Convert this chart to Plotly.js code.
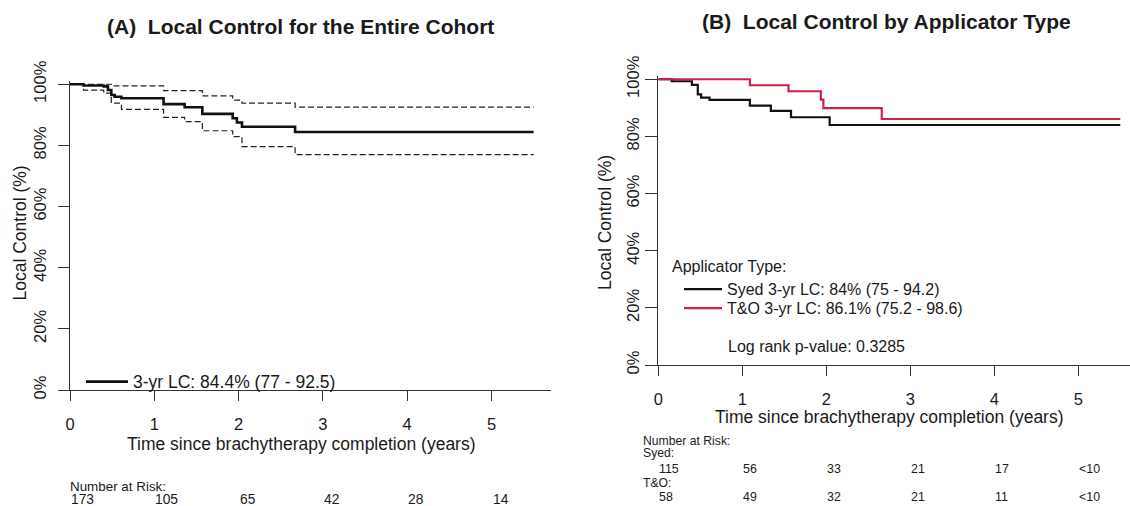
<!DOCTYPE html>
<html><head><meta charset="utf-8">
<script src="https://cdn.plot.ly/plotly-3.0.1.min.js"></script>
<style>html,body{margin:0;padding:0;background:#fff}#chart{width:1130px;height:506px}</style>
</head><body><div id="chart"></div>
<script>
// ---------- Panel A: entire cohort ----------
const cohortTime = [0, 0.16, 0.40, 0.45, 0.49, 0.53, 0.61, 1.11, 1.36, 1.57, 1.93, 1.98, 2.04, 2.67, 5.5];
const cohortLC   = [100, 99.6, 99.3, 98.1, 96.5, 95.9, 95.4, 93.5, 92.5, 90.3, 88.9, 87.5, 86.1, 84.4, 84.4];
const upperTime  = [0, 0.49, 1.11, 1.57, 1.93, 2.04, 2.67, 5.5];
const upperLC    = [100, 99.5, 97.9, 96.2, 94.8, 93.8, 92.5, 92.5];
const lowerTime  = [0, 0.16, 0.40, 0.49, 0.61, 1.11, 1.36, 1.57, 1.93, 2.04, 2.67, 5.5];
const lowerLC    = [100, 98.1, 97.1, 93.8, 91.8, 89.2, 87.8, 84.8, 82.9, 79.6, 77.0, 77.0];

// ---------- Panel B: by applicator type ----------
const syedTime = [0, 0.16, 0.40, 0.47, 0.51, 0.61, 1.09, 1.34, 1.58, 2.04, 5.5];
const syedLC   = [100, 99.3, 98.0, 94.7, 93.6, 92.8, 90.8, 88.9, 86.7, 84.0, 84.0];
const toTime   = [0, 1.09, 1.55, 1.935, 1.965, 2.66, 5.5];
const toLC     = [100, 97.9, 95.8, 92.9, 89.9, 86.1, 86.1];

// ---------- Ticks & labels ----------
const xTicks = [0, 1, 2, 3, 4, 5];
const yTicks = [0, 20, 40, 60, 80, 100];
const yTickText = ['0%', '20%', '40%', '60%', '80%', '100%'];

// ---------- Number at risk ----------
const riskYears = [0, 1, 2, 3, 4, 5];
const riskAll  = ['173', '105', '65', '42', '28', '14'];
const riskSyed = ['115', '56', '33', '21', '17', '&lt;10'];
const riskTO   = ['58', '49', '32', '21', '11', '&lt;10'];

const legendA  = '3-yr LC: 84.4% (77 - 92.5)';
const legendSyed = 'Syed 3-yr LC: 84% (75 - 94.2)';
const legendTO = 'T&amp;O 3-yr LC: 86.1% (75.2 - 98.6)';

const W = 1130, H = 506;
const px = v => v / W;
const py = v => 1 - v / H;
const FONT = 'Liberation Sans, Arial, Helvetica, sans-serif';
const INK = '#1a1a1a';
const RED = 'rgb(208,32,72)';

const traces = [
  {x: upperTime, y: upperLC, xaxis: 'x', yaxis: 'y', mode: 'lines', line: {shape: 'hv', color: '#222', width: 1.2, dash: '6px,3px'}, showlegend: false, hoverinfo: 'skip'},
  {x: lowerTime, y: lowerLC, xaxis: 'x', yaxis: 'y', mode: 'lines', line: {shape: 'hv', color: '#222', width: 1.2, dash: '6px,3px'}, showlegend: false, hoverinfo: 'skip'},
  {x: cohortTime, y: cohortLC, xaxis: 'x', yaxis: 'y', mode: 'lines', name: legendA, legend: 'legend', line: {shape: 'hv', color: '#111', width: 2.6}},
  {x: syedTime, y: syedLC, xaxis: 'x2', yaxis: 'y2', mode: 'lines', name: legendSyed, legend: 'legend2', line: {shape: 'hv', color: '#111', width: 2.2}},
  {x: toTime, y: toLC, xaxis: 'x2', yaxis: 'y2', mode: 'lines', name: legendTO, legend: 'legend3', line: {shape: 'hv', color: RED, width: 2.2}}
];

function xAxis(domain, range, anchor) {
  return {domain, range, anchor, tickvals: xTicks, ticks: 'outside', ticklen: 10, tickwidth: 1, tickcolor: '#333',
    showline: true, linecolor: '#333', linewidth: 1, showgrid: false, zeroline: false,
    ticklabelstandoff: 9, tickfont: {size: 16.5, color: INK, family: FONT}, fixedrange: true};
}
function yAxis(domain, anchor, standoff, tlen) {
  return {domain, range: [0, 101], anchor, tickvals: yTicks, ticktext: yTickText, tickangle: -90,
    ticks: 'outside', ticklen: tlen, tickwidth: 1, tickcolor: '#333', showline: true, linecolor: '#333', linewidth: 1,
    showgrid: false, zeroline: false, ticklabelstandoff: standoff, tickfont: {size: 16.5, color: INK, family: FONT}, fixedrange: true};
}

const annotations = [];
function txt(text, x, y, opts) {
  annotations.push(Object.assign({text, x, y, xref: 'paper', yref: 'paper', showarrow: false,
    xanchor: 'left', yanchor: 'middle', borderpad: 0, font: {size: 16, color: INK, family: FONT}}, opts || {}));
}
// Titles
txt('<b>(A)\u00a0\u00a0Local Control for the Entire Cohort</b>', px(300), py(26.7), {xanchor: 'center', font: {size: 21, color: INK, family: FONT}});
txt('<b>(B)\u00a0\u00a0Local Control by Applicator Type</b>', px(886), py(21.7), {xanchor: 'center', font: {size: 21, color: INK, family: FONT}});
// Axis titles
txt('Time since brachytherapy completion (years)', px(301.5), py(444.3), {xanchor: 'center', font: {size: 17.5, color: INK, family: FONT}});
txt('Time since brachytherapy completion (years)', px(889), py(416.5), {xanchor: 'center', font: {size: 17.5, color: INK, family: FONT}});
txt('Local Control (%)', px(19.5), py(233), {xanchor: 'center', textangle: -90, font: {size: 17.5, color: INK, family: FONT}});
txt('Local Control (%)', px(605), py(223), {xanchor: 'center', textangle: -90, font: {size: 17.5, color: INK, family: FONT}});
// Panel B legend title and p-value
txt('Applicator Type:', px(671), py(266));
txt('Log rank p-value: 0.3285', px(727.3), py(346));
// Number at risk, panel A
txt('Number at Risk:', px(69), py(486), {font: {size: 13.4, color: INK, family: FONT}});
riskYears.forEach((t, i) => annotations.push({text: riskAll[i], x: t, y: py(499.5), xref: 'x', yref: 'paper', showarrow: false,
  xanchor: 'left', yanchor: 'middle', borderpad: 0, font: {size: 13.8, color: INK, family: FONT}}));
// Number at risk, panel B
txt('Number at Risk:', px(641.5), py(441), {font: {size: 12.2, color: INK, family: FONT}});
txt('Syed:', px(641.5), py(453.3), {font: {size: 12.2, color: INK, family: FONT}});
txt('T&amp;O:', px(641.5), py(483.3), {font: {size: 12.2, color: INK, family: FONT}});
riskYears.forEach((t, i) => {
  annotations.push({text: riskSyed[i], x: t, y: py(469.3), xref: 'x2', yref: 'paper', showarrow: false,
    xanchor: 'left', yanchor: 'middle', borderpad: 0, font: {size: 12.4, color: INK, family: FONT}});
  annotations.push({text: riskTO[i], x: t, y: py(497.3), xref: 'x2', yref: 'paper', showarrow: false,
    xanchor: 'left', yanchor: 'middle', borderpad: 0, font: {size: 12.4, color: INK, family: FONT}});
});

const legBase = {xanchor: 'left', yanchor: 'middle', bgcolor: 'rgba(0,0,0,0)', borderwidth: 0, itemclick: false, itemdoubleclick: false};
const layout = {
  width: W, height: H, margin: {l: 0, r: 0, t: 0, b: 0}, paper_bgcolor: '#fff', plot_bgcolor: '#fff',
  font: {family: FONT, color: INK},
  showlegend: true,
  xaxis: xAxis([px(70), px(551)], [0, (551 - 70) / 84.3], 'y'),
  yaxis: yAxis([py(390), py(81.2)], 'x', 6, 10.7),
  xaxis2: xAxis([px(658.3), 1], [0, (1130 - 658.3) / 84], 'y2'),
  yaxis2: yAxis([py(365), py(76.4)], 'x2', 0, 12),
  legend: Object.assign({x: px(81), y: py(381.7), itemwidth: 42, font: {size: 17.5, color: INK, family: FONT}}, legBase),
  legend2: Object.assign({x: px(679), y: py(289.3), itemwidth: 38, font: {size: 16, color: INK, family: FONT}}, legBase),
  legend3: Object.assign({x: px(679), y: py(308.3), itemwidth: 38, font: {size: 16, color: INK, family: FONT}}, legBase),
  annotations
};
Plotly.newPlot('chart', traces, layout, {displayModeBar: false, staticPlot: true});
</script></body></html>
